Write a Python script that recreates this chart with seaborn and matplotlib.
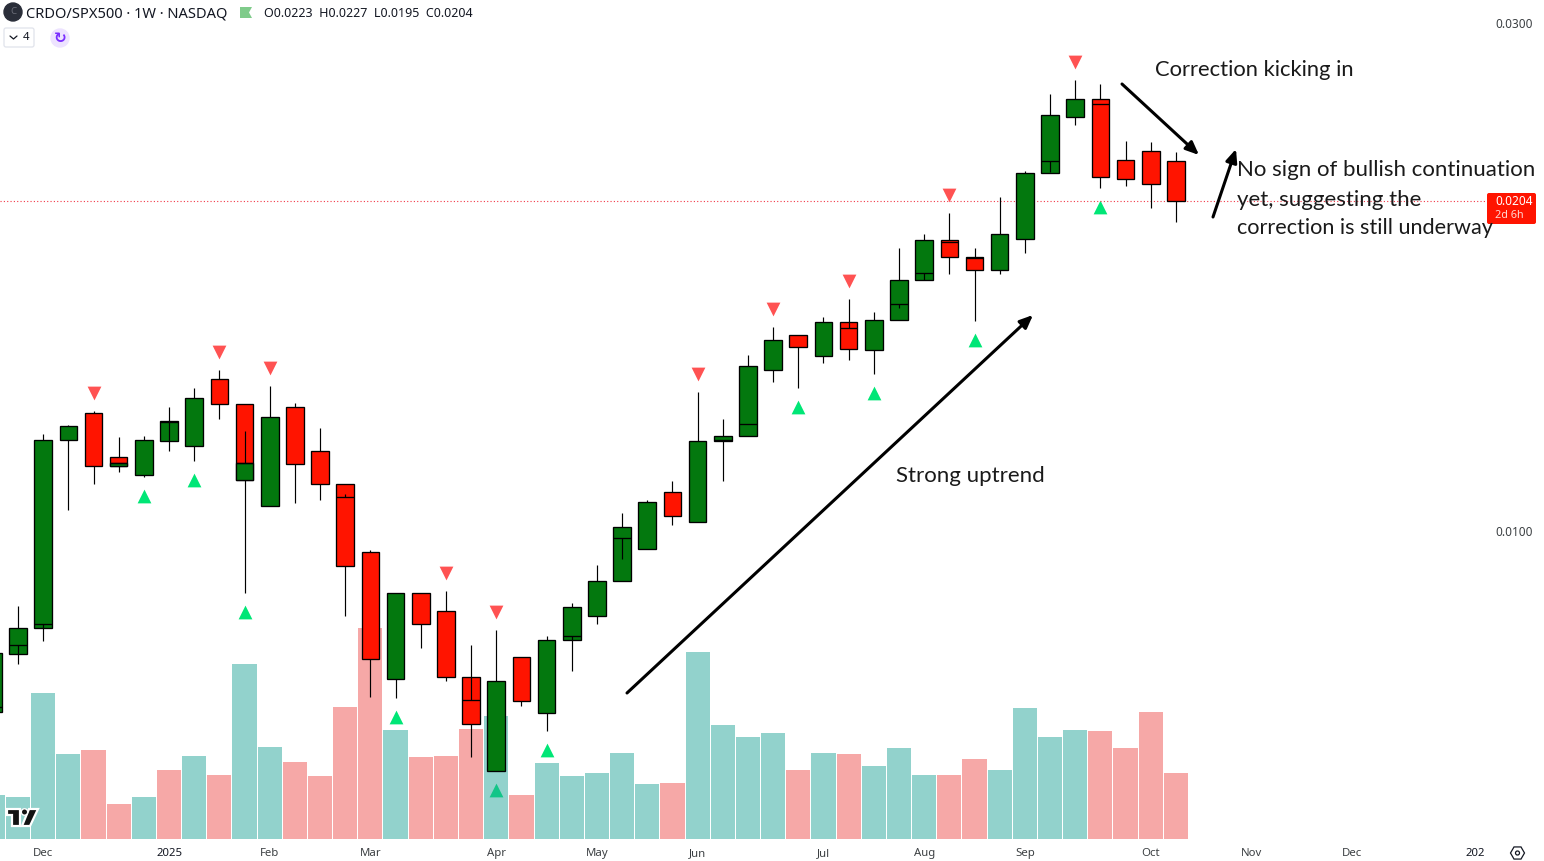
import pandas as pd
import matplotlib
matplotlib.use("Agg")
import matplotlib.pyplot as plt
import seaborn as sns
from matplotlib.patches import Circle, FancyBboxPatch, Polygon, RegularPolygon
from matplotlib.ticker import NullLocator

# -----------------------------
# Data
# -----------------------------
opens = [0.006765, 0.007669, 0.008102, 0.012167, 0.012898, 0.011728, 0.011295, 0.012156, 0.012026, 0.013883, 0.013152, 0.010548, 0.013067, 0.011881,
         0.011077, 0.009550, 0.007256, 0.008739, 0.008406, 0.007288, 0.005947, 0.007610, 0.006742, 0.007895, 0.008326, 0.008969, 0.009612, 0.010873,
         0.010190, 0.012141, 0.012273, 0.014156, 0.015269, 0.014591, 0.015704, 0.014781, 0.015772, 0.017197, 0.018751, 0.018074, 0.017573, 0.018792,
         0.021675, 0.024465, 0.025437, 0.022293, 0.022731, 0.022245]
closes = [0.007676, 0.008102, 0.012167, 0.012541, 0.011517, 0.011517, 0.012167, 0.012677, 0.013324, 0.013152, 0.011159, 0.012787, 0.011551, 0.011077,
          0.009265, 0.007577, 0.008739, 0.008173, 0.007288, 0.006583, 0.007225, 0.006919, 0.007895, 0.008479, 0.008969, 0.010080, 0.010640, 0.010323,
          0.012141, 0.012273, 0.014288, 0.015104, 0.014877, 0.015704, 0.014813, 0.015772, 0.017197, 0.018751, 0.018074, 0.017573, 0.018996, 0.021675,
          0.024571, 0.025437, 0.021488, 0.021395, 0.021165, 0.020401]
highs = [0.007676, 0.008503, 0.012334, 0.012576, 0.012954, 0.012254, 0.012281, 0.013075, 0.013624, 0.014160, 0.013152, 0.013683, 0.013180, 0.012495,
         0.011077, 0.009591, 0.008739, 0.008739, 0.008783, 0.007815, 0.008072, 0.007610, 0.007968, 0.008552, 0.009291, 0.010397, 0.010686, 0.011142,
         0.013507, 0.012740, 0.014630, 0.015545, 0.015269, 0.015885, 0.016516, 0.016058, 0.018441, 0.019008, 0.019891, 0.018429, 0.020592, 0.021783,
         0.025730, 0.026521, 0.026292, 0.023243, 0.023193, 0.022682]
lows = [0.006765, 0.007500, 0.007888, 0.010471, 0.011077, 0.011368, 0.011246, 0.011889, 0.011642, 0.012749, 0.008751, 0.010548, 0.010631, 0.010700,
        0.008326, 0.006988, 0.006973, 0.007769, 0.007234, 0.006138, 0.005947, 0.006853, 0.006493, 0.007392, 0.008183, 0.008969, 0.009612, 0.010137,
        0.010190, 0.011149, 0.012273, 0.013811, 0.013633, 0.014390, 0.014484, 0.014052, 0.015772, 0.017197, 0.017444, 0.015758, 0.017444, 0.018255,
        0.021675, 0.024077, 0.021010, 0.021101, 0.020121, 0.019521]

# second candle set that shows through some of the bodies
inner_weeks = [0, 1, 2, 5, 7, 10, 14, 19, 23, 25, 29, 30, 34, 36, 37, 38, 39, 42, 44]
inner_levels = [0.006834, 0.007810, 0.008173, 0.011577, 0.012650, 0.011577, 0.010770, 0.006934, 0.007963, 0.009843, 0.012167, 0.012595, 0.015502,
                0.016327, 0.017459, 0.018670, 0.018035, 0.022245, 0.025163]
stem_weeks = [1, 2, 7, 10, 14, 19, 23, 25, 34, 36, 37, 42]
stem_tops = [0.007810, 0.008173, 0.012650, 0.012414, 0.010833, 0.007288, 0.007963, 0.009843, 0.015704, 0.016327, 0.017459, 0.022245]
stem_bottoms = [0.007669, 0.008102, 0.012156, 0.011577, 0.010770, 0.006934, 0.007895, 0.009418, 0.015502, 0.016207, 0.017197, 0.021750]
split_weeks = [5, 10]

volume = [44, 42, 146, 85, 89, 35, 42, 69, 83, 64, 175, 92, 77, 63, 132, 211, 109, 82, 83, 110, 123, 44, 76, 63, 66, 86, 55, 56, 187, 114, 102, 106,
          69, 86, 85, 73, 91, 64, 64, 80, 69, 131, 102, 109, 108, 91, 127, 66]
volume_side = ["up", "up", "up", "up", "down", "down", "up", "down", "up", "down", "up", "up", "down", "down", "down", "down", "up", "down", "down",
               "down", "up", "down", "up", "up", "up", "up", "up", "down", "up", "up", "up", "up", "down", "up", "down", "up", "up", "up", "down", "down",
               "up", "up", "up", "up", "down", "down", "down", "down"]

sell_weeks = [4, 9, 11, 18, 20, 28, 31, 34, 38, 43]
sell_prices = [0.013463, 0.014727, 0.014226, 0.009122, 0.008384, 0.014028, 0.016145, 0.017153, 0.020659, 0.027544]
buy_weeks = [6, 8, 10, 16, 20, 22, 32, 35, 39, 44]
buy_prices = [0.010786, 0.011166, 0.008393, 0.006688, 0.005711, 0.006227, 0.013075, 0.013477, 0.015114, 0.020151]

tick_weeks = [2, 7, 11, 15, 20, 24, 28, 33, 37, 41, 46, 50, 54, 58.9]
tick_labels = ["Dec", "2025", "Feb", "Mar", "Apr", "May", "Jun", "Jul", "Aug", "Sep", "Oct", "Nov", "Dec", "202"]
price_ticks = [0.03, 0.01]
price_labels = ["0.0300", "0.0100"]

# -----------------------------
# Colours and figure
# -----------------------------
GREEN = "#03780e"
RED = "#ff1400"
UI_FONT = "Noto Sans"
NOTE_FONT = "Lato"

sns.set_theme(style="white")
plt.rcParams["font.family"] = [UI_FONT, "DejaVu Sans"]

fig = plt.figure(figsize=(15.44, 8.61), dpi=100)
rect = [0, 22 / 861, 1488 / 1544, 839 / 861]
xlim = (0.285, 59.40)
ylim = (0.005137, 0.03152)

# signals sit under the volume bars, candles sit over them
ax_sig = fig.add_axes(rect, zorder=1)
ax_vol = fig.add_axes(rect, zorder=2)
ax = fig.add_axes(rect, zorder=3)

# -----------------------------
# Signals
# -----------------------------
sns.scatterplot(x=sell_weeks, y=sell_prices, marker="v", s=98, color="#ff5252", linewidth=0, ax=ax_sig)
sns.scatterplot(x=buy_weeks, y=buy_prices, marker="^", s=98, color="#00e676", linewidth=0, ax=ax_sig)
ax_sig.set_yscale("log")
ax_sig.set_xlim(xlim)
ax_sig.set_ylim(ylim)
ax_sig.axis("off")

# -----------------------------
# Volume
# -----------------------------
vol_df = pd.DataFrame({"week": range(len(volume)), "volume": volume, "side": volume_side})
sns.barplot(data=vol_df, x="week", y="volume", hue="side", palette={"up": "#26a69a", "down": "#ef5350"},
            dodge=False, native_scale=True, width=0.96, saturation=1, alpha=0.5, linewidth=0, legend=False, ax=ax_vol)
ax_vol.set_xlim(xlim)
ax_vol.set_ylim(0, 839)
ax_vol.axis("off")

# -----------------------------
# Candles
# -----------------------------
ax.patch.set_alpha(0)
ax.set_yscale("log")
ax.axhline(closes[-1], color="#f23645", linestyle=(0, (1, 2)), linewidth=0.8, zorder=1)

weeks = list(range(len(opens)))
ax.vlines(weeks, lows, highs, color="black", linewidth=0.85, zorder=2)
for i in weeks:
    top = max(opens[i], closes[i])
    bottom = min(opens[i], closes[i])
    ax.bar(i, top - bottom, bottom=bottom, width=0.7, color=GREEN if closes[i] > opens[i] else RED,
           edgecolor="black", linewidth=0.95, zorder=3)
for i in split_weeks:
    level = inner_levels[inner_weeks.index(i)]
    ax.bar(i, level - closes[i], bottom=closes[i], width=0.7, color=GREEN, edgecolor="black", linewidth=0.95, zorder=3)
ax.hlines(inner_levels, [w - 0.35 for w in inner_weeks], [w + 0.35 for w in inner_weeks], color="black", linewidth=0.95, zorder=4)
ax.vlines(stem_weeks, stem_bottoms, stem_tops, color="black", linewidth=0.85, zorder=4)

ax.set_xlim(xlim)
ax.set_ylim(ylim)
ax.set_xticks(tick_weeks, tick_labels)
ax.yaxis.tick_right()
ax.set_yticks(price_ticks, price_labels)
ax.yaxis.set_minor_locator(NullLocator())
ax.tick_params(axis="x", length=0, pad=6.8, labelsize=8.2, labelcolor="#3c4043")
ax.tick_params(axis="y", length=0, pad=5, labelsize=8.5, labelcolor="#3c4043")
for label in ax.get_xticklabels():
    if label.get_text() in ("2025", "202"):
        label.set_color("#131722")
ax.grid(False)
sns.despine(ax=ax, left=True, bottom=True, right=True, top=True)

# -----------------------------
# Overlay in image pixels
# -----------------------------
over = fig.add_axes([0, 0, 1, 1], zorder=5)
over.set_xlim(0, 1544)
over.set_ylim(861, 0)
over.axis("off")

# header
over.add_patch(Circle((13, 12), 9, color="#2a2e39"))
over.text(13, 12, "C", color="#6a6d78", fontsize=7, ha="center", va="center")
over.text(26, 13.5, "CRDO/SPX500 · 1W · NASDAQ", color="#131722", fontsize=10.55, va="center")
over.add_patch(Polygon([(240, 7), (252, 7), (249, 12.5), (252, 18), (240, 18)], color="#7fcb8a", lw=0))
over.text(264, 13.5, "O0.0223  H0.0227  L0.0195  C0.0204", color="#131722", fontsize=9, va="center")
over.add_patch(FancyBboxPatch((4, 28), 30, 19, boxstyle="round,pad=0,rounding_size=2", fc="white", ec="#e0e3eb", lw=0.9))
over.plot([10, 13.5, 17], [36, 39, 36], color="#131722", lw=0.9)
over.text(26.5, 37.5, "4", color="#131722", fontsize=8.2, ha="center", va="center")
over.add_patch(Circle((60, 38), 9, color="#ede3ff"))
over.text(60, 38, "↻", color="#7b2fff", fontsize=11, ha="center", va="center", family="DejaVu Sans", fontweight="bold")

# last price tag
over.add_patch(FancyBboxPatch((1487, 193), 49, 31, boxstyle="round,pad=0,rounding_size=2", fc="#ff1400", ec="none"))
over.text(1495, 201.5, "0.0204", color="white", fontsize=8.5, fontweight="bold", va="center")
over.text(1495, 215, "2d 6h", color="#ffd6d2", fontsize=7.8, va="center")

# logo
logo_edge = dict(ec="white", lw=1.6, joinstyle="miter")
over.add_patch(Polygon([(7, 809), (20, 809), (20, 826), (12, 826), (12, 815), (7, 815)], fc="#131313", **logo_edge))
over.add_patch(Polygon([(29, 809), (38, 809), (30, 826), (22, 826)], fc="#131313", **logo_edge))
over.add_patch(Circle((24.5, 812), 3.2, fc="#131313", ec="white", lw=1))

# settings icon
over.add_patch(RegularPolygon((1517.5, 853), 6, radius=7, orientation=0.5236, fc="none", ec="#131722", lw=0.9))
over.add_patch(Circle((1517.5, 853), 2, fc="none", ec="#131722", lw=0.9))

# notes and arrows
arrow = dict(arrowstyle="-|>,head_length=0.65,head_width=0.28", color="black", lw=2.2, shrinkA=0, shrinkB=0)
over.annotate("", xy=(1033, 315), xytext=(627, 693), arrowprops=arrow)
over.annotate("", xy=(1199, 155), xytext=(1122, 84), arrowprops=arrow)
over.annotate("", xy=(1236, 149), xytext=(1213, 217), arrowprops=arrow)

note = dict(family=NOTE_FONT, color="#1a1a1a", va="center")
over.text(1155, 69.5, "Correction kicking in", fontsize=15.8, **note)
over.text(896, 476.5, "Strong uptrend", fontsize=16, **note)
over.text(1237, 170.5, "No sign of bullish continuation", fontsize=16, **note)
over.text(1237, 199.5, "yet, suggesting the", fontsize=16, **note)
over.text(1237, 228.5, "correction is still underway", fontsize=15.6, **note)

fig.savefig("out.png", dpi=100)
